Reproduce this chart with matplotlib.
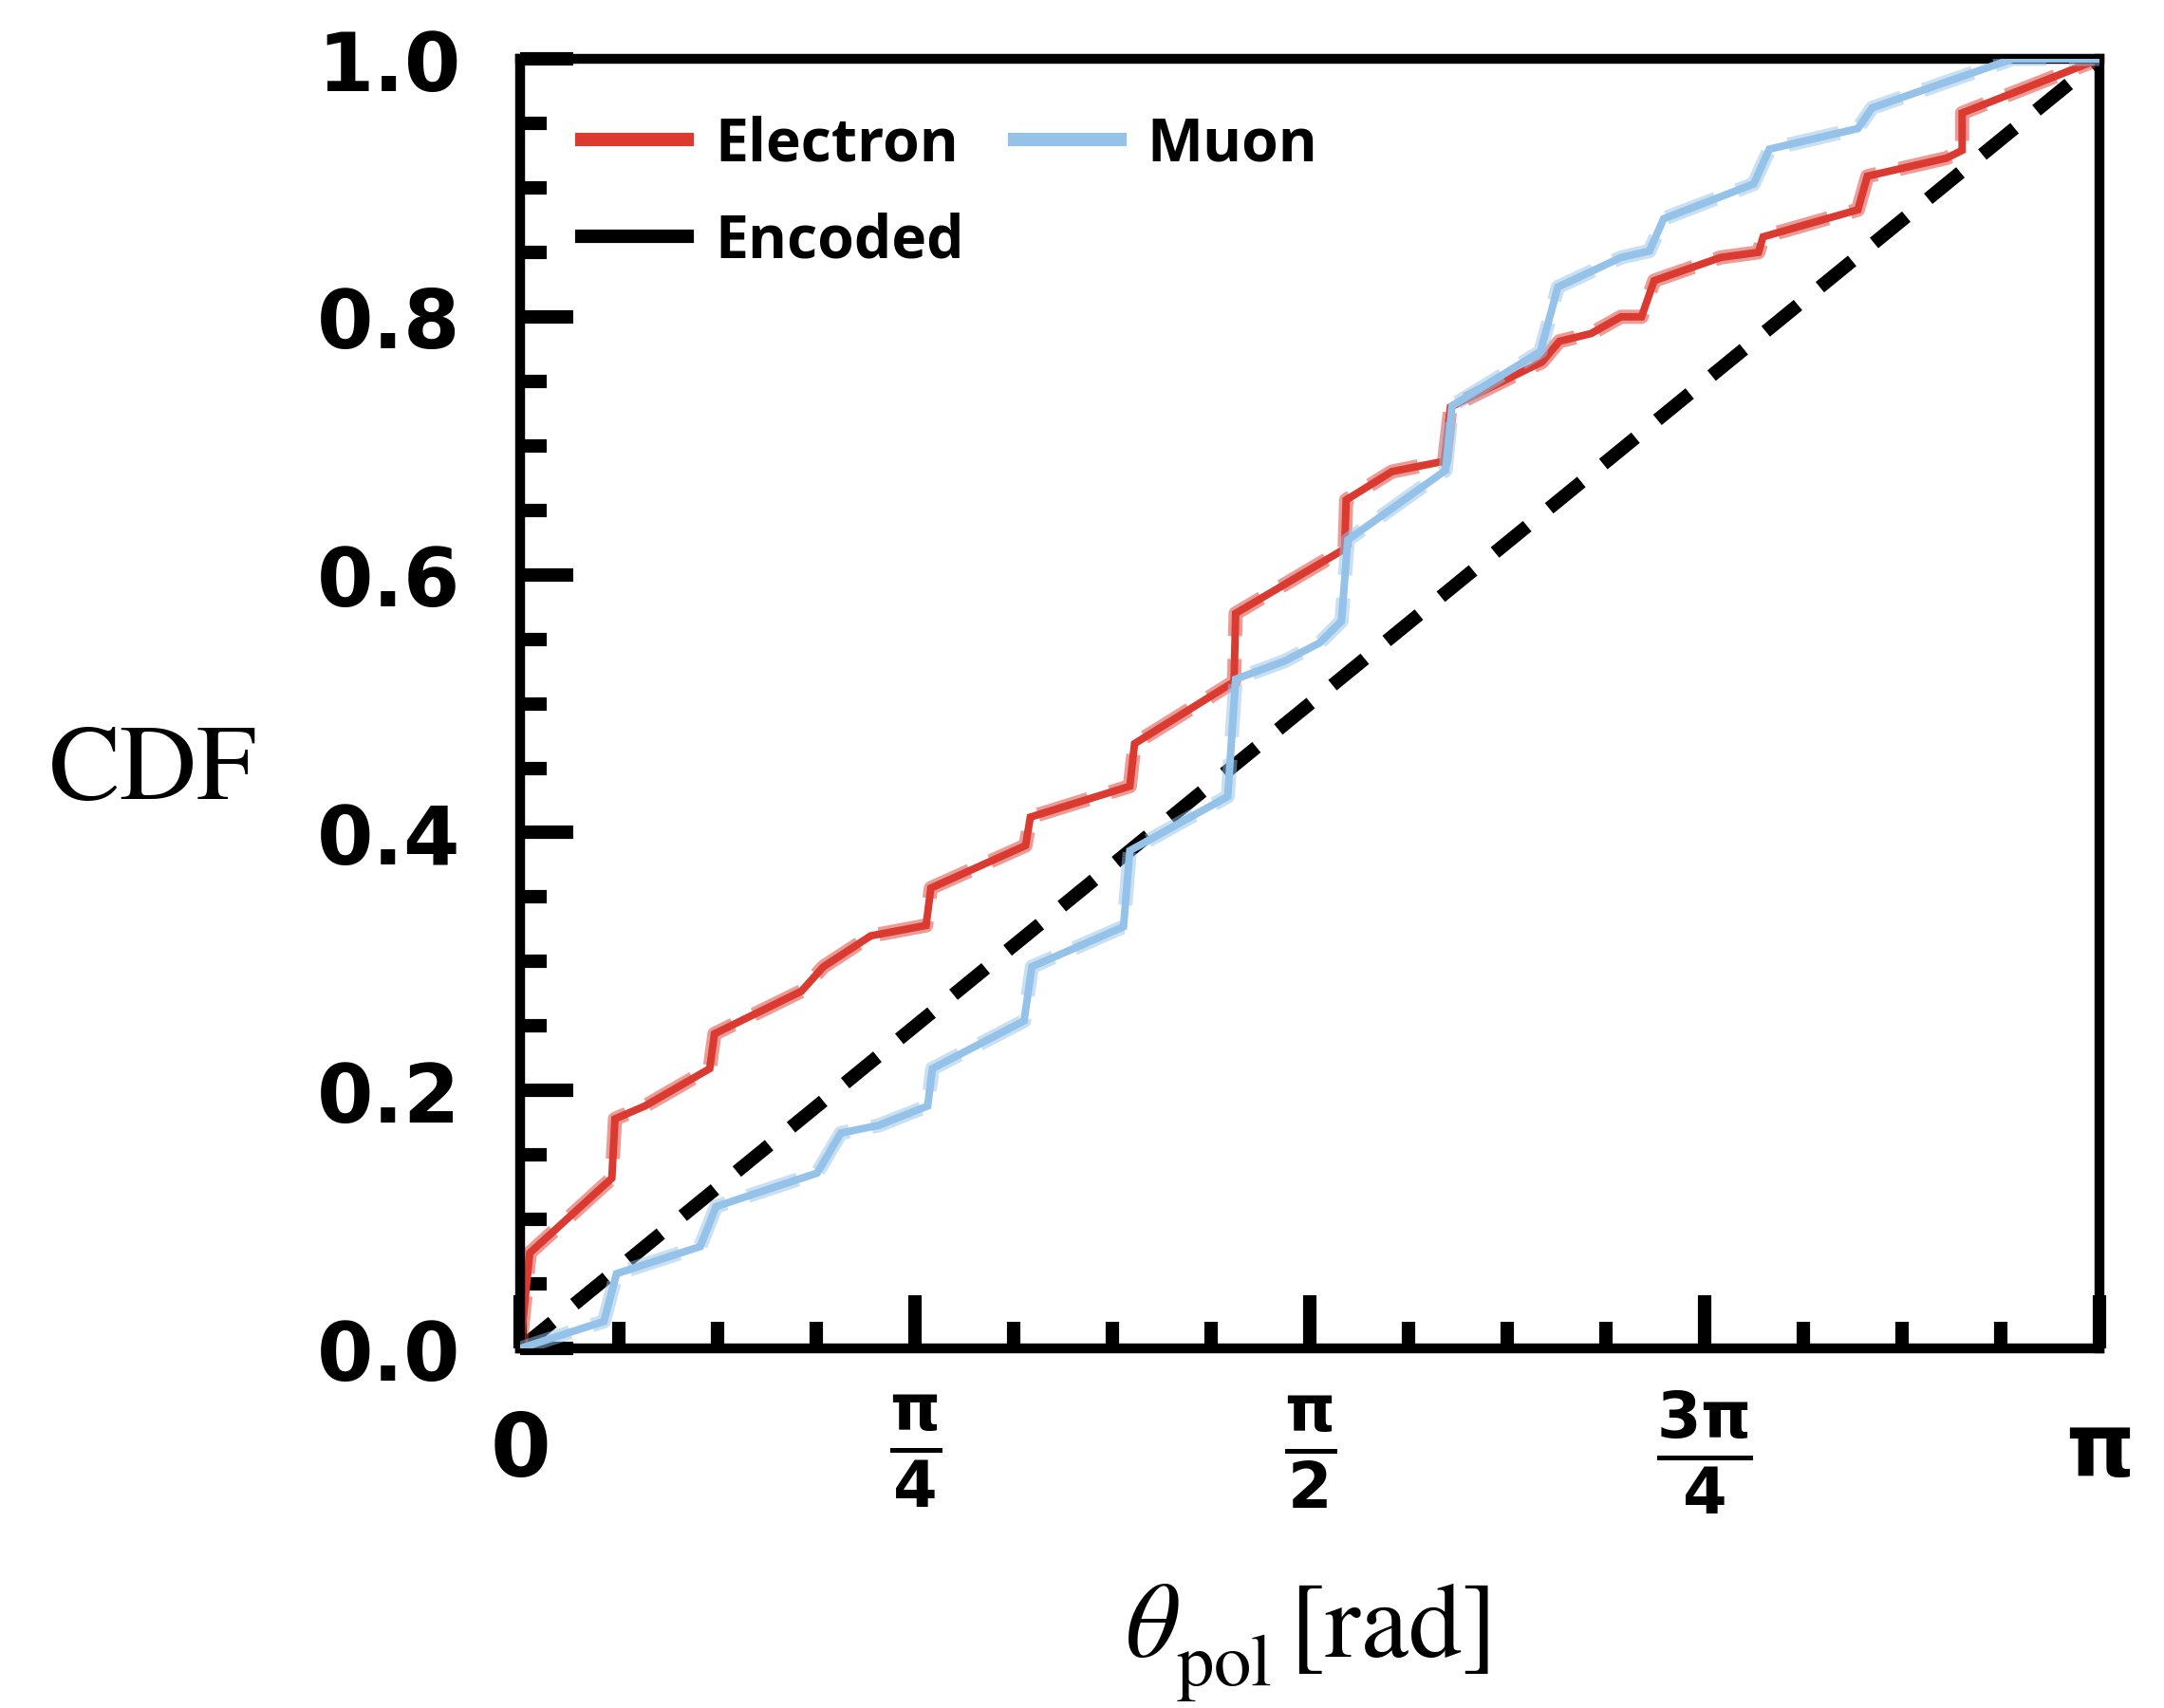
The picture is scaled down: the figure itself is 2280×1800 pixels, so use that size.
import numpy as np
import matplotlib
matplotlib.use("Agg")
import matplotlib.pyplot as plt
from matplotlib.lines import Line2D
from matplotlib.ticker import FixedLocator, MultipleLocator

plt.rcParams["mathtext.fontset"] = "custom"
plt.rcParams["mathtext.rm"] = "DejaVu Sans:bold"
plt.rcParams["mathtext.it"] = "DejaVu Sans:bold"
plt.rcParams["mathtext.bf"] = "DejaVu Sans:bold"

# polar angle as a fraction of pi, CDF value
electron_t = [0.0, 0.006, 0.058, 0.060, 0.079, 0.120, 0.123, 0.178, 0.192, 0.222,
              0.257, 0.260, 0.320, 0.323, 0.386, 0.389, 0.452, 0.453, 0.522, 0.523,
              0.552, 0.585, 0.589, 0.647, 0.658, 0.678, 0.697, 0.710, 0.718, 0.760,
              0.784, 0.787, 0.847, 0.853, 0.903, 0.913, 0.913, 1.0]
electron_cdf = [0.0, 0.074, 0.132, 0.178, 0.188, 0.217, 0.244, 0.277, 0.296, 0.320,
                0.328, 0.357, 0.390, 0.412, 0.436, 0.469, 0.517, 0.570, 0.620, 0.658,
                0.680, 0.688, 0.730, 0.765, 0.781, 0.787, 0.800, 0.800, 0.828, 0.846,
                0.850, 0.862, 0.883, 0.909, 0.923, 0.929, 0.958, 1.0]

muon_t = [0.0, 0.053, 0.061, 0.114, 0.124, 0.188, 0.203, 0.227, 0.258, 0.261,
          0.319, 0.324, 0.382, 0.386, 0.448, 0.453, 0.484, 0.506, 0.520, 0.524,
          0.586, 0.590, 0.646, 0.657, 0.697, 0.715, 0.724, 0.781, 0.791, 0.847,
          0.856, 0.945, 1.0]
muon_cdf = [0.0, 0.021, 0.058, 0.079, 0.110, 0.136, 0.167, 0.173, 0.188, 0.217,
            0.254, 0.296, 0.327, 0.386, 0.428, 0.519, 0.533, 0.547, 0.564, 0.627,
            0.681, 0.731, 0.773, 0.823, 0.846, 0.851, 0.876, 0.903, 0.930, 0.946,
            0.962, 1.0, 1.0]

encoded_t = [0.0, 1.0]
encoded_cdf = [0.0, 1.0]

xtick_vals = [0, np.pi / 4, np.pi / 2, 3 * np.pi / 4, np.pi]
xtick_labels = ["0", r"$\frac{\pi}{4}$", r"$\frac{\pi}{2}$", r"$\frac{3\pi}{4}$", "π"]

red = "#db3a31"
blue = "#95c2e8"

fig = plt.figure(figsize=(7.6, 6.0033), dpi=300)
ax = fig.add_axes([0.2404, 0.2104, 0.9702 - 0.2404, 0.965 - 0.2104])

ax.plot(np.pi * np.array(encoded_t), encoded_cdf, color="black", lw=3.4,
        dashes=(3.1, 2.1), dash_capstyle="butt", zorder=1)

for t, cdf, c, z in [(electron_t, electron_cdf, red, 2), (muon_t, muon_cdf, blue, 3)]:
    x = np.pi * np.array(t)
    ax.plot(x, cdf, color=c, lw=1.9, solid_joinstyle="miter", zorder=z)
    ax.plot(x, cdf, color=c, lw=3.6, ls="--", alpha=0.5, dash_capstyle="butt", zorder=z)

ax.set_xlim(0, np.pi)
ax.set_ylim(0, 1)

for s in ax.spines.values():
    s.set_linewidth(2.5)

ax.xaxis.set_major_locator(FixedLocator(xtick_vals))
ax.xaxis.set_minor_locator(MultipleLocator(np.pi / 16))
ax.yaxis.set_major_locator(MultipleLocator(0.2))
ax.yaxis.set_minor_locator(MultipleLocator(0.05))
ax.tick_params(which="both", direction="in", width=3.4, top=False, right=False)
ax.tick_params(which="major", length=13.5)
ax.tick_params(which="minor", length=6.7)
ax.tick_params(axis="y", pad=15)
ax.tick_params(axis="x", pad=26)

ax.set_yticks([0, 0.2, 0.4, 0.6, 0.8, 1.0])
ax.set_yticklabels(["0.0", "0.2", "0.4", "0.6", "0.8", "1.0"],
                   fontfamily="DejaVu Sans", fontweight="bold", fontsize=20.5)
labels = ax.set_xticklabels(xtick_labels, fontfamily="DejaVu Sans",
                            fontweight="bold", fontsize=22)
for lab in labels:
    lab.set_verticalalignment("center")
    if "frac" in lab.get_text():
        lab.set_fontsize(23)

ax.set_ylabel("CDF", rotation=0, fontfamily="STIXGeneral", fontsize=27,
              ha="center", va="center")
ax.yaxis.set_label_coords(-0.2326, 0.446)
ax.set_xlabel(r"$\theta_{\rm pol}^{}\,$[rad]", fontfamily="STIXGeneral", fontsize=27,
              math_fontfamily="stix")
ax.xaxis.label.set_verticalalignment("baseline")
ax.xaxis.set_label_coords(0.498, -0.238)

handles = [Line2D([], [], color=red, lw=3.4),
           Line2D([], [], color="black", lw=3.4),
           Line2D([], [], color=blue, lw=3.4)]
ax.legend(handles, ["Electron", "Encoded", "Muon"], ncol=2, loc="upper left",
          bbox_to_anchor=(0.039, 0.957), frameon=False, borderaxespad=0,
          borderpad=0, handlelength=1.78, handletextpad=0.46, columnspacing=0.85,
          labelspacing=0.63, prop={"family": "Open Sans", "weight": "bold", "size": 15})

fig.savefig("out.png", dpi=300)
